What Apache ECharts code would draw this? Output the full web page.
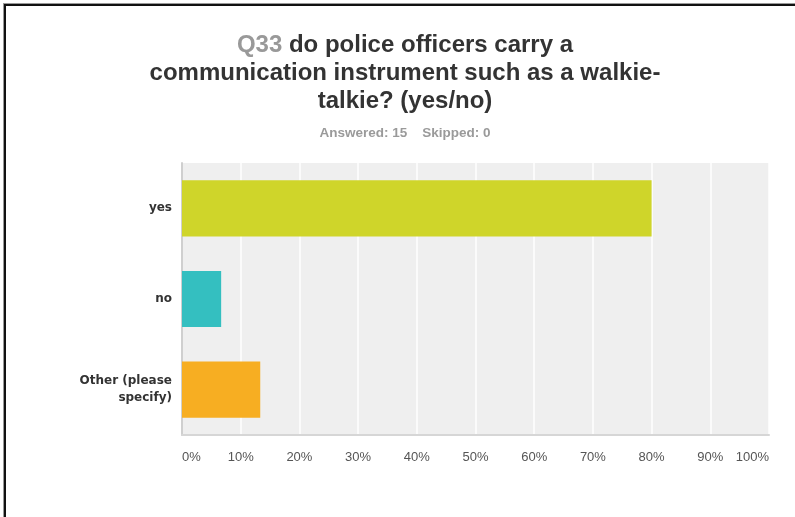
<!DOCTYPE html>
<html>
<head>
<meta charset="utf-8">
<title>Q33</title>
<script src="https://cdn.jsdelivr.net/npm/echarts@6/dist/echarts.min.js"></script>
<style>
  html, body { margin: 0; padding: 0; background: #fff; }
  #frame {
    position: absolute; left: 4px; top: 4px; width: 791px; height: 513px;
    border-left: 2px solid #111; border-top: 2px solid #111;
    box-shadow: -1px -1px 0 #999;
  }
  #chart { position: absolute; left: 0; top: 0; width: 795px; height: 517px; }
</style>
</head>
<body>
<div id="frame"></div>
<div id="chart"></div>
<script>
// Survey question: answer choices and share of respondents (%)
const questionNo = 'Q33';
const questionText = 'do police officers carry a\ncommunication instrument such as a walkie-\ntalkie? (yes/no)';
const answeredInfo = 'Answered: 15    Skipped: 0';
const categories = ['yes', 'no', 'Other (please\nspecify)'];
const shares = [80.00, 6.67, 13.33];
const barColors = ['#cfd52a', '#34bfc0', '#f7ae22'];
const tickValues = [0, 10, 20, 30, 40, 50, 60, 70, 80, 90, 100];

const chart = echarts.init(document.getElementById('chart'), null, { renderer: 'canvas' });

chart.setOption({
  animation: false,
  backgroundColor: 'transparent',
  title: [
    {
      text: '{q|' + questionNo + '} ' + questionText,
      left: 405,
      top: 31,
      padding: 0,
      textAlign: 'center',
      textStyle: {
        fontFamily: 'Liberation Sans, Arial, sans-serif',
        fontSize: 24,
        fontWeight: 'bold',
        color: '#333',
        lineHeight: 28,
        rich: {
          q: {
            fontFamily: 'Liberation Sans, Arial, sans-serif',
            fontSize: 24,
            fontWeight: 'bold',
            color: '#999',
            lineHeight: 28
          }
        }
      }
    },
    {
      text: answeredInfo,
      left: 405,
      top: 126,
      padding: 0,
      textAlign: 'center',
      textStyle: {
        fontFamily: 'Liberation Sans, Arial, sans-serif',
        fontSize: 13.5,
        fontWeight: 'bold',
        color: '#9a9a9a'
      }
    }
  ],
  grid: {
    left: 182, right: 26, top: 163, bottom: 82,
    show: true, backgroundColor: '#efefef', borderWidth: 0,
    containLabel: false
  },
  xAxis: {
    type: 'value',
    min: 0, max: 100, interval: 10,
    axisLine: { show: true, lineStyle: { color: '#d6d6d6', width: 2 } },
    axisTick: { show: false },
    splitLine: { show: true, lineStyle: { color: '#ffffff', width: 1.5 } },
    axisLabel: {
      margin: 16,
      color: '#555',
      fontFamily: 'Liberation Sans, Arial, sans-serif',
      fontSize: 13,
      alignMinLabel: 'left',
      alignMaxLabel: 'right',
      customValues: tickValues,
      formatter: v => v + '%'
    }
  },
  yAxis: {
    type: 'category',
    data: categories,
    inverse: true,
    axisLine: { show: true, lineStyle: { color: '#cfcfcf', width: 2 } },
    axisTick: { show: false },
    splitLine: { show: false },
    axisLabel: {
      margin: 10,
      color: '#333',
      fontFamily: 'DejaVu Sans, Verdana, sans-serif',
      fontSize: 12,
      fontWeight: 'bold',
      lineHeight: 17,
      align: 'right'
    }
  },
  series: [{
    type: 'bar',
    data: shares.map((v, i) => ({ value: v, itemStyle: { color: barColors[i] } })),
    barCategoryGap: '38%',
    label: { show: false }
  }]
});
</script>
</body>
</html>
